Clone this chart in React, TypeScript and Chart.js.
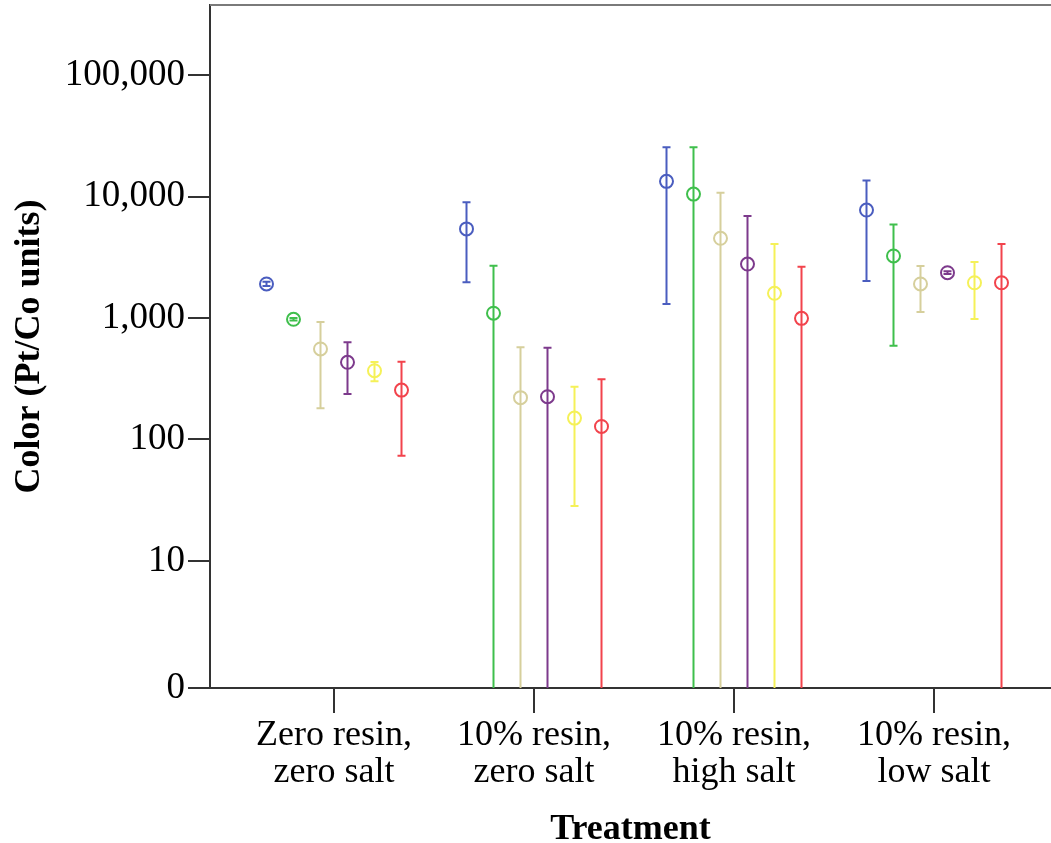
import React, { useEffect, useRef } from "react";
import { Chart, registerables } from "chart.js";

Chart.register(...registerables);

// ---- Data ----
const categories: string[][] = [
  ["Zero resin,", "zero salt"],
  ["10% resin,", "zero salt"],
  ["10% resin,", "high salt"],
  ["10% resin,", "low salt"],
];

const seriesColors = ["#4a5dbf", "#3fbf4c", "#d6cf9c", "#7d3a8c", "#f5f158", "#f2434c"];

// mean values per series (one value per category)
const blueMean = [1905, 5410, 13330, 7740];
const greenMean = [976, 1095, 10470, 3240];
const tanMean = [556, 221, 4530, 1905];
const purpleMean = [432, 225, 2780, 2360];
const yellowMean = [368, 150, 1597, 1950];
const redMean = [255, 128, 993, 1950];

// lower error limits (0 = reaches the bottom of the axis)
const blueLow = [1830, 1968, 1303, 2020];
const greenLow = [955, 0, 0, 590];
const tanLow = [181, 0, 0, 1120];
const purpleLow = [237, 0, 0, 2300];
const yellowLow = [302, 28.4, 0, 980];
const redLow = [73.6, 0, 0, 0];

// upper error limits
const blueHigh = [1985, 8960, 25400, 13520];
const greenHigh = [998, 2690, 25400, 5890];
const tanHigh = [926, 574, 10720, 2680];
const purpleHigh = [631, 569, 6920, 2420];
const yellowHigh = [435, 272, 4060, 2890];
const redHigh = [436, 313, 2640, 4060];

const yTickValues = [0.9, 10, 100, 1000, 10000, 100000];
const yTickLabels = ["0", "10", "100", "1,000", "10,000", "100,000"];

const means = [blueMean, greenMean, tanMean, purpleMean, yellowMean, redMean];
const lows = [blueLow, greenLow, tanLow, purpleLow, yellowLow, redLow];
const highs = [blueHigh, greenHigh, tanHigh, purpleHigh, yellowHigh, redHigh];

// ---- Layout constants ----
const W = 1051;
const H = 843;
const Y_MIN = 0.9;
const Y_MAX = 377000;
const SERIES_STEP = 0.135;
const offsetFor = (s: number) => (s - 2.5) * SERIES_STEP;
const FONT = "'Liberation Serif', 'Times New Roman', serif";

const zeroPad = (scale: any) => {
  scale.paddingTop = 0;
  scale.paddingBottom = 0;
  scale.paddingLeft = 0;
  scale.paddingRight = 0;
};

const errorBarPlugin = {
  id: "errorBars",
  afterDatasetsDraw(chart: any) {
    const { ctx, chartArea, scales } = chart;
    const xs = scales.x;
    const ys = scales.y;
    ctx.save();
    ctx.beginPath();
    ctx.rect(chartArea.left, chartArea.top, chartArea.right - chartArea.left, chartArea.bottom - chartArea.top + 1);
    ctx.clip();
    means.forEach((_, s) => {
      ctx.strokeStyle = seriesColors[s];
      ctx.lineWidth = 2;
      categories.forEach((__, i) => {
        const x = xs.getPixelForValue(i + offsetFor(s));
        const hi = highs[s][i];
        const lo = lows[s][i];
        const yHi = ys.getPixelForValue(hi);
        const clipped = lo <= Y_MIN;
        const yLo = clipped ? chartArea.bottom : ys.getPixelForValue(lo);
        ctx.beginPath();
        ctx.moveTo(x, yHi);
        ctx.lineTo(x, yLo);
        ctx.moveTo(x - 4, yHi);
        ctx.lineTo(x + 4, yHi);
        if (!clipped) {
          ctx.moveTo(x - 4, yLo);
          ctx.lineTo(x + 4, yLo);
        }
        ctx.stroke();
      });
    });
    ctx.restore();
  },
  afterDraw(chart: any) {
    const { ctx, chartArea } = chart;
    ctx.save();
    ctx.strokeStyle = "#7a7a7a";
    ctx.lineWidth = 2;
    ctx.beginPath();
    ctx.moveTo(chartArea.left, chartArea.top);
    ctx.lineTo(chart.width, chartArea.top);
    ctx.stroke();
    ctx.restore();
  },
};

export default function App() {
  const ref = useRef<HTMLCanvasElement | null>(null);

  useEffect(() => {
    if (!ref.current) return;
    const datasets = means.map((m, s) => ({
      label: "s" + s,
      data: m.map((v, i) => ({ x: i + offsetFor(s), y: v })),
      borderColor: seriesColors[s],
      backgroundColor: "rgba(0,0,0,0)",
      pointRadius: 6.5,
      pointBorderWidth: 2,
      pointStyle: "circle",
      showLine: false,
    }));

    const chart = new Chart(ref.current, {
      type: "scatter",
      data: { datasets },
      plugins: [errorBarPlugin],
      options: {
        responsive: false,
        animation: false,
        layout: { autoPadding: false, padding: { top: 5, left: 0, right: 0, bottom: 0 } },
        plugins: { legend: { display: false }, tooltip: { enabled: false } },
        scales: {
          x: {
            type: "linear",
            min: -0.62,
            max: 3.585,
            afterBuildTicks: (scale: any) => {
              scale.ticks = categories.map((_, i) => ({ value: i }));
            },
            afterFit: (scale: any) => {
              scale.height = H - 688;
              zeroPad(scale);
            },
            ticks: {
              autoSkip: false,
              maxRotation: 0,
              padding: 4,
              color: "#000",
              font: { family: FONT, size: 36, lineHeight: 1.02 },
              callback: (v: any) => categories[Math.round(Number(v))] ?? "",
            },
            grid: { drawOnChartArea: false, drawTicks: true, tickLength: 25, color: "#333", lineWidth: 2 },
            border: { color: "#333", width: 2 },
            title: {
              display: true,
              text: "Treatment",
              color: "#000",
              font: { family: FONT, size: 36, weight: "bold", lineHeight: 1 },
              padding: { top: 0, bottom: -5 },
            },
          },
          y: {
            type: "logarithmic",
            min: Y_MIN,
            max: Y_MAX,
            afterBuildTicks: (scale: any) => {
              scale.ticks = yTickValues.map((v) => ({ value: v }));
            },
            afterFit: (scale: any) => {
              scale.width = 210;
              zeroPad(scale);
            },
            ticks: {
              autoSkip: false,
              padding: 3,
              color: "#000",
              font: { family: FONT, size: 37 },
              callback: (v: any) => {
                const idx = yTickValues.indexOf(Number(v));
                return idx >= 0 ? yTickLabels[idx] : "";
              },
            },
            grid: { drawOnChartArea: false, drawTicks: true, tickLength: 22, color: "#333", lineWidth: 2 },
            border: { color: "#333", width: 2 },
            title: {
              display: true,
              text: "Color (Pt/Co units)",
              color: "#000",
              font: { family: FONT, size: 36, weight: "bold", lineHeight: 1 },
              padding: { top: 12, bottom: 0 },
            },
          },
        },
      },
    } as any);
    return () => chart.destroy();
  }, []);

  return (
    <div style={{ position: "absolute", left: 0, top: 0, width: W, height: H, background: "#fff" }}>
      <canvas ref={ref} width={W} height={H} style={{ display: "block", width: W, height: H }} />
    </div>
  );
}
